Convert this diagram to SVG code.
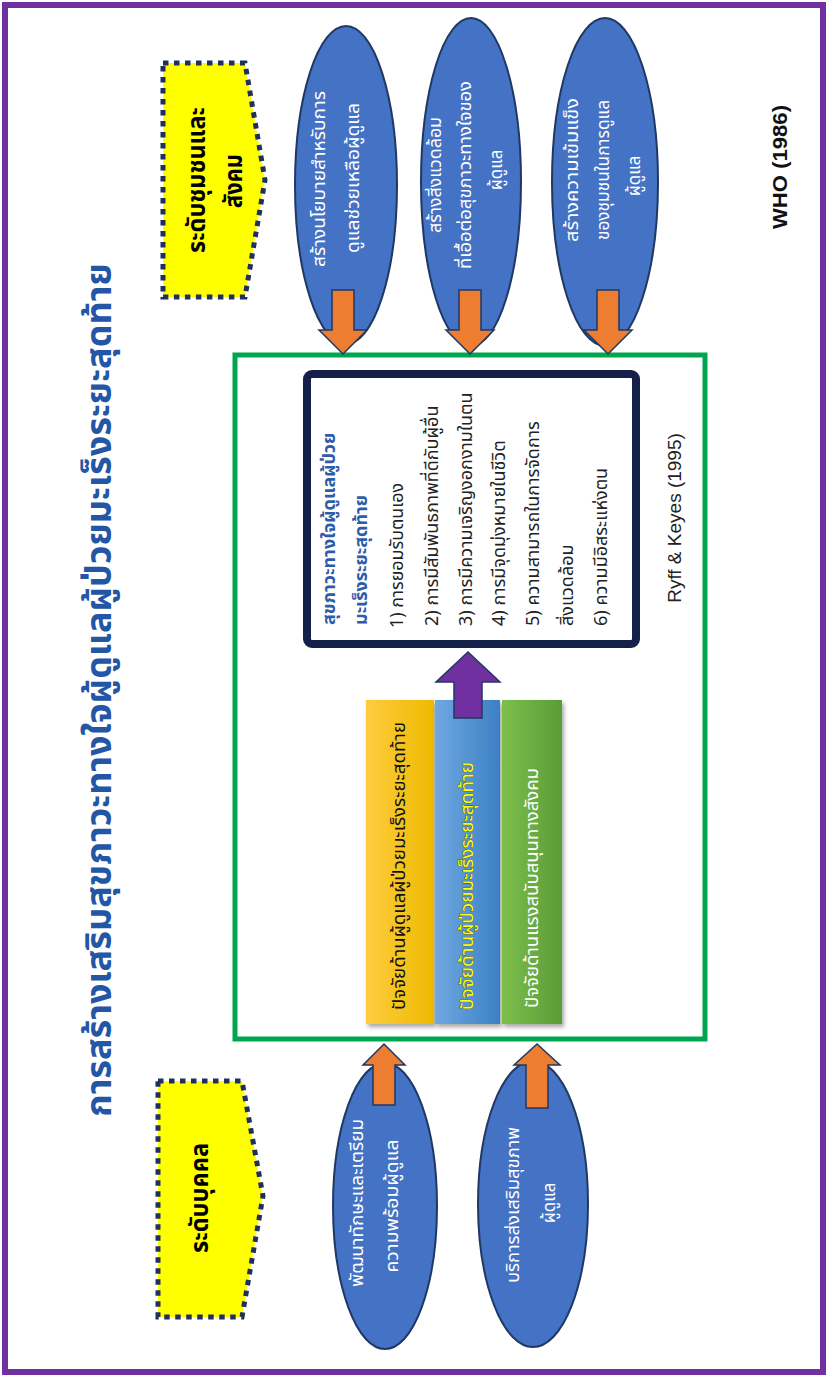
<svg xmlns="http://www.w3.org/2000/svg" width="828" height="1377" viewBox="0 0 828 1377">
<defs>
<style>
.th{font-family:"Noto Sans Thai","Noto Sans Thai UI","Noto Sans","DejaVu Sans",sans-serif}
.ell{fill:#4472C4;stroke:#1F3864;stroke-width:2}
.et{fill:#ffffff;font-size:17px}
.pent{fill:#FFFF00;stroke:#1F2F5F;stroke-width:5;stroke-dasharray:5.5 5.5}
.oarr{fill:#ED7D31;stroke:#1F3864;stroke-width:1.5}
.lst{fill:#222222;font-size:18px}
.lsth{fill:#2E5CA8;font-size:18px;font-weight:bold}
.lvl{font-size:25px;font-weight:bold;fill:#000}
</style>
<linearGradient id="gy" x1="0" y1="0" x2="1" y2="0"><stop offset="0" stop-color="#FFCC40"/><stop offset="1" stop-color="#EDBA00"/></linearGradient>
<linearGradient id="gb" x1="0" y1="0" x2="1" y2="0"><stop offset="0" stop-color="#6FA8E0"/><stop offset="1" stop-color="#3C80C4"/></linearGradient>
<linearGradient id="gg" x1="0" y1="0" x2="1" y2="0"><stop offset="0" stop-color="#7DBE4C"/><stop offset="1" stop-color="#5A9C38"/></linearGradient>
<filter id="sh" x="-10%" y="-10%" width="130%" height="130%"><feDropShadow dx="2" dy="3" stdDeviation="2" flood-color="#000" flood-opacity="0.35"/></filter>
</defs>
<rect x="0" y="0" width="828" height="1377" fill="#ffffff"/>
<rect id="frame" x="5" y="5" width="818" height="1367" fill="#ffffff" stroke="#7030A0" stroke-width="6"/>

<g id="title">
<text class="th" transform="translate(100,690) rotate(-90)" text-anchor="middle" dominant-baseline="central" font-size="36" font-weight="bold" fill="#2456A6">การสร้างเสริมสุขภาวะทางใจผู้ดูแลผู้ป่วยมะเร็งระยะสุดท้าย</text>
</g>

<g id="level-community">
<path class="pent" d="M163,63 L245,63 L265,180 L245,297 L163,297 Z"/>
<text class="th lvl" transform="translate(197,180) rotate(-90)" text-anchor="middle" dominant-baseline="central" textLength="146" lengthAdjust="spacingAndGlyphs">ระดับชุมชนและ</text>
<text class="th lvl" transform="translate(234,181) rotate(-90)" text-anchor="middle" dominant-baseline="central" textLength="54" lengthAdjust="spacingAndGlyphs">สังคม</text>
</g>

<g id="level-individual">
<path class="pent" d="M158,1081 L242,1081 L263,1196 L242,1317 L158,1317 Z"/>
<text class="th lvl" transform="translate(200,1198) rotate(-90)" text-anchor="middle" dominant-baseline="central" textLength="110" lengthAdjust="spacingAndGlyphs">ระดับบุคคล</text>
</g>

<g id="policy">
<ellipse class="ell" cx="346" cy="185" rx="51" ry="159"/>
<text class="th et" transform="translate(320,179) rotate(-90)" text-anchor="middle" dominant-baseline="central" textLength="176" lengthAdjust="spacingAndGlyphs">สร้างนโยบายสำหรับการ</text>
<text class="th et" transform="translate(354,178) rotate(-90)" text-anchor="middle" dominant-baseline="central" textLength="150" lengthAdjust="spacingAndGlyphs">ดูแลช่วยเหลือผู้ดูแล</text>
</g>

<g id="environment">
<ellipse class="ell" cx="471" cy="182" rx="50" ry="164"/>
<text class="th et" transform="translate(436,175) rotate(-90)" text-anchor="middle" dominant-baseline="central" textLength="116" lengthAdjust="spacingAndGlyphs">สร้างสิ่งแวดล้อม</text>
<text class="th et" transform="translate(466,175) rotate(-90)" text-anchor="middle" dominant-baseline="central" textLength="188" lengthAdjust="spacingAndGlyphs">ที่เอื้อต่อสุขภาวะทางใจของ</text>
<text class="th et" transform="translate(497,170) rotate(-90)" text-anchor="middle" dominant-baseline="central">ผู้ดูแล</text>
</g>

<g id="community">
<ellipse class="ell" cx="605" cy="182" rx="53" ry="164"/>
<text class="th et" transform="translate(573,170) rotate(-90)" text-anchor="middle" dominant-baseline="central" textLength="144" lengthAdjust="spacingAndGlyphs">สร้างความเข้มแข็ง</text>
<text class="th et" transform="translate(604,170) rotate(-90)" text-anchor="middle" dominant-baseline="central" textLength="140" lengthAdjust="spacingAndGlyphs">ของชุมชนในการดูแล</text>
<text class="th et" transform="translate(635,176) rotate(-90)" text-anchor="middle" dominant-baseline="central">ผู้ดูแล</text>
</g>

<g id="skills">
<ellipse class="ell" cx="385" cy="1206" rx="52" ry="143"/>
<text class="th et" transform="translate(358,1203) rotate(-90)" text-anchor="middle" dominant-baseline="central" textLength="168" lengthAdjust="spacingAndGlyphs">พัฒนาทักษะและเตรียม</text>
<text class="th et" transform="translate(393,1206) rotate(-90)" text-anchor="middle" dominant-baseline="central" textLength="133" lengthAdjust="spacingAndGlyphs">ความพร้อมผู้ดูแล</text>
</g>

<g id="services">
<ellipse class="ell" cx="533" cy="1204" rx="55" ry="143"/>
<text class="th et" transform="translate(514,1205) rotate(-90)" text-anchor="middle" dominant-baseline="central" textLength="156" lengthAdjust="spacingAndGlyphs">บริการส่งเสริมสุขภาพ</text>
<text class="th et" transform="translate(550,1203) rotate(-90)" text-anchor="middle" dominant-baseline="central">ผู้ดูแล</text>
</g>

<g id="framework">
<rect x="235" y="355" width="470" height="684" fill="#ffffff" stroke="#00A550" stroke-width="5"/>
<text transform="translate(674,518) rotate(-90)" text-anchor="middle" dominant-baseline="central" font-family="Liberation Sans, Arial, sans-serif" font-size="19" fill="#222">Ryff &amp; Keyes (1995)</text>
</g>

<g id="wellbeing">
<rect x="307" y="374" width="329" height="270" rx="5" fill="#ffffff" stroke="#14204A" stroke-width="8"/>
<g class="th">
<text class="lsth" transform="translate(329,625) rotate(-90)" dominant-baseline="central">สุขภาวะทางใจผู้ดูแลผู้ป่วย</text>
<text class="lsth" transform="translate(361,625) rotate(-90)" dominant-baseline="central">มะเร็งระยะสุดท้าย</text>
<text class="lst" transform="translate(397,628) rotate(-90)" dominant-baseline="central" textLength="145" lengthAdjust="spacingAndGlyphs">1) การยอมรับตนเอง</text>
<text class="lst" transform="translate(432,626) rotate(-90)" dominant-baseline="central">2) การมีสัมพันธภาพที่ดีกับผู้อื่น</text>
<text class="lst" transform="translate(466,626) rotate(-90)" dominant-baseline="central">3) การมีความเจริญงอกงามในตน</text>
<text class="lst" transform="translate(499,626) rotate(-90)" dominant-baseline="central">4) การมีจุดมุ่งหมายในชีวิต</text>
<text class="lst" transform="translate(533,626) rotate(-90)" dominant-baseline="central">5) ความสามารถในการจัดการ</text>
<text class="lst" transform="translate(567,626) rotate(-90)" dominant-baseline="central">สิ่งแวดล้อม</text>
<text class="lst" transform="translate(601,626) rotate(-90)" dominant-baseline="central">6) ความมีอิสระแห่งตน</text>
</g>
</g>

<g id="factor-caregiver">
<rect x="366" y="700" width="68" height="324" fill="url(#gy)" filter="url(#sh)"/>
<text class="th" transform="translate(400,1010) rotate(-90)" dominant-baseline="central" font-size="17" fill="#111" textLength="288" lengthAdjust="spacingAndGlyphs">ปัจจัยด้านผู้ดูแลผู้ป่วยมะเร็งระยะสุดท้าย</text>
</g>
<g id="factor-patient">
<rect x="435" y="700" width="65" height="324" fill="url(#gb)" filter="url(#sh)"/>
<text class="th" transform="translate(468,1010) rotate(-90)" dominant-baseline="central" font-size="17" fill="#FFFF00" stroke="#3A3A20" stroke-width="0.6" paint-order="stroke" textLength="248" lengthAdjust="spacingAndGlyphs">ปัจจัยด้านผู้ป่วยมะเร็งระยะสุดท้าย</text>
</g>
<g id="factor-social">
<rect x="502" y="700" width="60" height="324" fill="url(#gg)" filter="url(#sh)"/>
<text class="th" transform="translate(533,1008) rotate(-90)" dominant-baseline="central" font-size="17" fill="#ffffff" textLength="240" lengthAdjust="spacingAndGlyphs">ปัจจัยด้านแรงสนับสนุนทางสังคม</text>
</g>

<g id="connectors">
<polygon class="oarr" points="332,290 354,290 354,330 367,330 343,354 319,330 332,330"/>
<polygon class="oarr" points="459,290 481,290 481,330 494,330 470,354 446,330 459,330"/>
<polygon class="oarr" points="597,290 619,290 619,330 632,330 608,354 584,330 597,330"/>
<polygon class="oarr" points="373,1105 395,1105 395,1065 405,1065 384,1044 363,1065 373,1065"/>
<polygon class="oarr" points="526,1108 548,1108 548,1065 560,1065 537,1044 514,1065 526,1065"/>
<polygon points="454,718 482,718 482,682 500,682 468,652 436,682 454,682" fill="#7030A0" stroke="#1F3864" stroke-width="1.5"/>
</g>

<g id="source">
<text transform="translate(780,167) rotate(-90)" text-anchor="middle" dominant-baseline="central" font-family="Liberation Sans, Arial, sans-serif" font-size="20" font-weight="bold" fill="#111" textLength="124" lengthAdjust="spacingAndGlyphs">WHO (1986)</text>
</g>
</svg>
